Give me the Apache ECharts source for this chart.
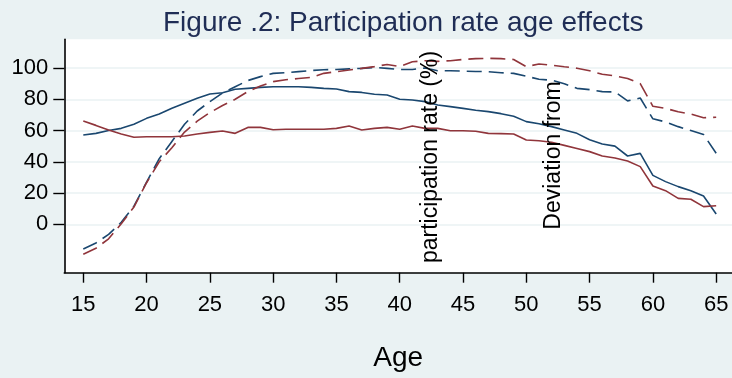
<!DOCTYPE html>
<html>
<head>
<meta charset="utf-8">
<script src="https://cdn.jsdelivr.net/npm/echarts@6/dist/echarts.min.js"></script>
<style>
html,body{margin:0;padding:0;background:#eaf2f3;}
#chart{width:732px;height:378px;}
</style>
</head>
<body>
<div id="chart"></div>
<script>
const ages = [15,16,17,18,19,20,21,22,23,24,25,26,27,28,29,30,31,32,33,34,35,36,37,38,39,40,41,42,43,44,45,46,47,48,49,50,51,52,53,54,55,56,57,58,59,60,61,62,63,64,65];
const solidNavy = [57.1,58.2,60,61.4,64,67.8,70.6,74.2,77.4,80.6,83.4,84.2,86.4,87,87.6,88,88,88,87.6,87,86.6,84.9,84.4,83.2,82.7,80,79.5,78.5,76.3,75.3,74.2,73,72.1,70.8,69.2,65.7,64.3,62.5,60.4,58.2,54.1,51.4,50,43.7,45.4,31.3,27.3,24.1,21.5,18.1,6.6];
const solidMaroon = [66.1,63.3,60.3,57.8,55.7,56,56,56,56.5,57.8,58.8,59.7,58.2,62,62,60.5,60.8,60.8,60.8,60.8,61.4,62.9,60.3,61.4,62,60.8,62.9,61.4,61.4,59.9,59.9,59.5,58.2,58,57.8,53.9,53.5,52.5,50.5,48.5,46.5,43.7,42.4,40.5,36.9,24.5,21.5,16.6,16,11.3,11.9];
const dashedNavy = [-15.8,-12,-6.5,1.3,11.6,27,42,53,64,72.5,78.5,84,88,92,94.5,96.6,97,97.7,98.4,98.9,99.1,99.5,99.8,100.4,99.8,99.1,99.1,100,98.3,98.3,98,97.8,97.7,97,96.6,94.8,92.8,92.2,90,87,86.2,84.9,84.7,79,80.8,67.5,65.5,62.5,60,57.5,45.4];
const dashedMaroon = [-19.2,-15.4,-9.3,0.3,11,26.6,40,49,59,66,71.5,76,80,85,88.5,91.3,92.5,93.3,94,96.6,97.7,98.7,99.8,100.9,102.3,100.9,104,104.7,104.3,104.7,105.5,106,106.2,106,105.5,100.9,102.6,101.8,100.8,99.9,98.3,96,95,93.3,90,75.5,74.2,72,70.6,68.2,68.5];
const xTicks = [15,20,25,30,35,40,45,50,55,60,65];
const yTicks = [0,20,40,60,80,100];
const titleText = 'Figure .2: Participation rate age effects';
const xTitle = 'Age';
const innerText1 = 'participation rate (%)';
const innerText2 = 'Deviation from';

const NAVY = '#1a476f', MAROON = '#90353b';
const FONT = '"Liberation Sans", Arial, sans-serif';
function pairs(ys){ return ages.map((a,i)=>[a, ys[i]]); }
function line(ys, color, dashed){
  return {
    type:'line', data: pairs(ys), showSymbol:false, symbol:'none', animation:false,
    lineStyle:{color:color, width:1.6, type: dashed ? [15,7] : 'solid'},
    itemStyle:{color:color}
  };
}
const chart = echarts.init(document.getElementById('chart'), null, {renderer:'canvas'});
chart.setOption({
  backgroundColor:'#eaf2f3',
  animation:false,
  title:{
    text:titleText, left:158, top:4,
    textStyle:{fontFamily:FONT, fontSize:28, fontWeight:'normal', color:'#1f2d55'}
  },
  grid:{left:64.3, top:39.3, right:0, bottom:105.3, show:true, backgroundColor:'#ffffff', borderWidth:0, containLabel:false},
  xAxis:{
    type:'value', min:13.5, max:66.25,
    name:xTitle, nameLocation:'middle', nameGap:72,
    nameTextStyle:{fontFamily:FONT, fontSize:28, color:'#000'},
    axisLine:{show:true, onZero:false, lineStyle:{color:'#000', width:1.6}},
    axisTick:{show:true, length:10, customValues:xTicks, lineStyle:{color:'#000', width:1.4}},
    axisLabel:{customValues:xTicks, margin:21, fontFamily:FONT, fontSize:22, color:'#000'},
    splitLine:{show:false}
  },
  yAxis:{
    type:'value', min:-31, max:118.4,
    axisLine:{show:true, onZero:false, lineStyle:{color:'#000', width:1.6}},
    axisTick:{show:true, length:11, customValues:yTicks, lineStyle:{color:'#000', width:1.4}},
    axisLabel:{customValues:yTicks, margin:16, fontFamily:FONT, fontSize:22, color:'#000'},
    splitLine:{show:true, lineStyle:{color:'#eaf2f3', width:1.5}}
  },
  graphic:[
    {type:'text', x:431, y:157, rotation:Math.PI/2, z:100,
     style:{text:innerText1, fontFamily:FONT, fontSize:23, fill:'#000', textAlign:'center', textVerticalAlign:'middle'}},
    {type:'text', x:553.5, y:155.5, rotation:Math.PI/2, z:100,
     style:{text:innerText2, fontFamily:FONT, fontSize:23, fill:'#000', textAlign:'center', textVerticalAlign:'middle'}}
  ],
  series:[
    line(solidNavy, NAVY, false),
    line(solidMaroon, MAROON, false),
    line(dashedNavy, NAVY, true),
    line(dashedMaroon, MAROON, true)
  ]
});
</script>
</body>
</html>
